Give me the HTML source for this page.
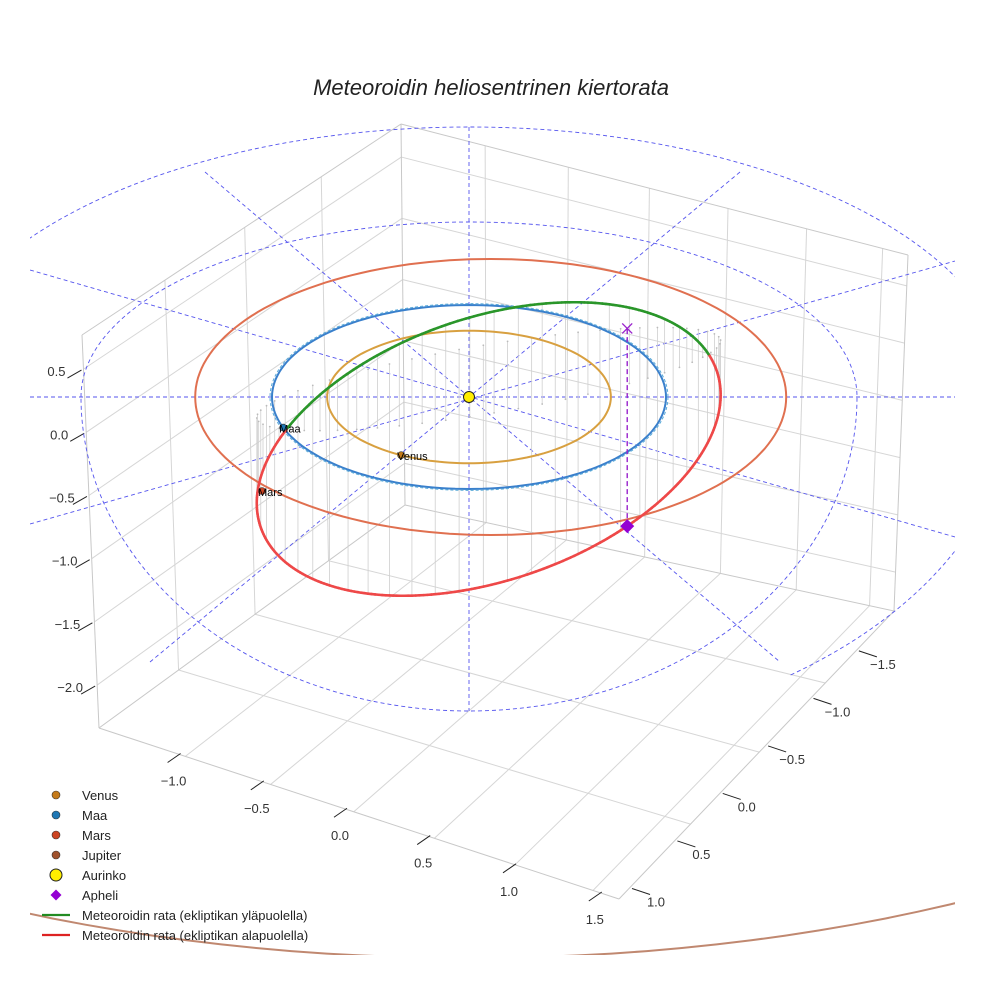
<!DOCTYPE html>
<html><head><meta charset="utf-8"><style>
html,body{margin:0;padding:0;background:#fff;}
svg{display:block;font-family:"Liberation Sans",sans-serif;}
</style></head><body>
<svg id="chart" width="984" height="984" viewBox="0 0 984 984">
<defs>
<clipPath id="axclip"><rect x="30" y="100" width="925" height="855"/></clipPath>
<clipPath id="rightclip"><rect x="790" y="397" width="165" height="400"/></clipPath>
</defs>
<text x="491" y="95" text-anchor="middle" font-size="22" font-style="italic" fill="#222">Meteoroidin heliosentrinen kiertorata</text>
<g id="grid"></g>
<g id="ticks"></g>
<g id="plot" clip-path="url(#axclip)"></g>
<g id="legend"></g>
</svg>
<script>
// ---- data ----
const planetNames = ["Venus","Maa","Mars","Jupiter"];
const planetRadii = [0.72, 1.0, 1.50, 5.2];
const planetOffsetX = [0, 0, 0.11, 0];
const planetColors = ["#d8a040","#3a80cc","#e07050","#c08870"];
const planetAngles = [-2.07, 3.48, 3.5, 0];
const zTicks = [0.5, 0.0, -0.5, -1.0, -1.5, -2.0];
const zTickLabels = ["0.5","0.0","\u22120.5","\u22121.0","\u22121.5","\u22122.0"];
const xTickLabels = ["\u22121.0","\u22120.5","0.0","0.5","1.0","1.5"];
const yTickLabels = ["1.0","0.5","0.0","\u22120.5","\u22121.0","\u22121.5"];
// meteoroid orbit (apparent ellipse conjugate vectors in AU units + z wave)
const orbitCenter = [0.10, 0.0];
const orbitUx = 1.157, orbitVx = -0.218;
const orbitUy = -0.853, orbitVy = -1.348;
const orbitZmean = -0.555, orbitZamp = 1.364, orbitZphase = 74;
const aphelionT = -64;

const NS = "http://www.w3.org/2000/svg";
const SX = 197, SY = 92, SZ = 126, CX = 469, CY = 397;
function proj(x, y, z){ return [CX + SX*x, CY + SY*y - SZ*z]; }
function mk(tag, attrs, parent){
  const e = document.createElementNS(NS, tag);
  for (const k in attrs) e.setAttribute(k, attrs[k]);
  parent.appendChild(e); return e;
}
const grid = document.getElementById('grid'), ticks = document.getElementById('ticks');
const plot = document.getElementById('plot'), legend = document.getElementById('legend');
function lerp(a,b,t){ return [a[0]+(b[0]-a[0])*t, a[1]+(b[1]-a[1])*t]; }
function bil(p00,p10,p01,p11,u,v){ return lerp(lerp(p00,p10,u), lerp(p01,p11,u), v); }
function line(p,q,style,parent,name){
  const l = mk('line',{x1:p[0],y1:p[1],x2:q[0],y2:q[1],stroke:style.c,'stroke-width':style.w||1,'stroke-dasharray':style.d||'none'},parent);
  
  
  return l;
}
// ---- box ----
const LT=[82,335], BT=[401,124], RT=[908,255], LB=[99,728], BB=[405,505], RB=[894,611], FB=[619,899];
const gs = {c:"#d6d6d6", w:1};
const leftF = [0.26, 0.51, 0.75];
const rightF = [0.166, 0.33, 0.49, 0.645, 0.80, 0.95];
const zTop = 0.77, zRange = 3.11;
zTicks.forEach(z=>{ const f=(zTop-z)/zRange; line(lerp(LT,LB,f), lerp(BT,BB,f), gs, grid, 'left-wall-gridline'); });
leftF.forEach(f=>line(lerp(LT,BT,f), lerp(LB,BB,f), gs, grid, 'left-wall-gridline'));
zTicks.forEach(z=>{ const f=(zTop-z)/zRange; line(lerp(BT,BB,f), lerp(RT,RB,f), gs, grid, 'right-wall-gridline'); });
rightF.forEach(f=>line(lerp(BT,RT,f), lerp(BB,RB,f), gs, grid, 'right-wall-gridline'));
rightF.forEach(f=>line(bil(BB,RB,LB,FB,f,0), bil(BB,RB,LB,FB,f,1), gs, grid, 'floor-gridline'));
leftF.forEach(f=>line(bil(BB,RB,LB,FB,0,1-f), bil(BB,RB,LB,FB,1,1-f), gs, grid, 'floor-gridline'));
const es = {c:"#c8c8c8", w:1};
[[LT,LB],[BT,BB],[RT,RB],[LT,BT],[BT,RT],[LB,FB],[FB,RB],[LB,BB],[BB,RB]].forEach(e=>line(e[0],e[1],es,grid,'axes-edge'));
zTicks.forEach((z,i)=>{
  const f=(zTop-z)/zRange, p=lerp(LT,LB,f);
  line([p[0]-16,p[1]+9],[p[0]-2,p[1]+1],{c:"#222",w:1},ticks,'z-tick');
  const t=mk('text',{x:p[0]-27,y:p[1]+7,'font-size':13,fill:'#333','text-anchor':'middle'},ticks);
  t.textContent=zTickLabels[i];
   
});
const xPos=[0.155,0.315,0.475,0.635,0.80,0.965];
xTickLabels.forEach((s,i)=>{
  const p=lerp(LB,FB,xPos[i]);
  line([p[0]-12,p[1]+8],[p[0]+1,p[1]-1],{c:"#222",w:1},ticks,'x-tick');
  const t=mk('text',{x:p[0]-6,y:p[1]+31,'font-size':13,fill:'#333','text-anchor':'middle'},ticks);
  t.textContent=s;
   
});
const yPos=[0.04,0.205,0.37,0.535,0.70,0.865];
yTickLabels.forEach((s,i)=>{
  const p=lerp(FB,RB,yPos[i]);
  line([p[0]+2,p[1]+1],[p[0]+20,p[1]+7],{c:"#222",w:1},ticks,'y-tick');
  const t=mk('text',{x:p[0]+26,y:p[1]+19,'font-size':13,fill:'#333','text-anchor':'middle'},ticks);
  t.textContent=s;
   
});
// ---- ecliptic reference (dashed) ----
const ds = {c:"#5555ee", w:0.9, d:"4,3"};
function pathEl(d, name, parent, extra){
  const p = mk('path',Object.assign({d:d,fill:'none',stroke:ds.c,'stroke-width':ds.w,'stroke-dasharray':ds.d},extra||{}),parent);
    return p;
}
pathEl(`M ${CX-388} ${CY} A 388 175 0 0 1 ${CX+388} ${CY} A 388 314 0 0 1 ${CX-388} ${CY}`,'ecliptic-circle-inner',plot);
pathEl(`M ${CX-543} ${CY} A 543 270 0 0 1 ${CX+543} ${CY}`,'ecliptic-circle-outer-top',plot);
pathEl(`M ${CX+543} ${CY} A 543 345 0 0 1 ${CX-543} ${CY}`,'ecliptic-circle-outer-bottom',plot,{'clip-path':'url(#rightclip)'});
[[[30,397],[955,397]],[[469,127],[469,711]],[[205,172],[780,662]],[[740,172],[150,662]],[[30,270],[955,537]],[[30,524],[955,261]]]
  .forEach(s=>line(s[0],s[1],ds,plot,'ecliptic-spoke'));
// ---- meteoroid orbit ----
function orbitPt(tDeg){
  const t=tDeg*Math.PI/180;
  const x = orbitCenter[0]+orbitUx*Math.cos(t)+orbitVx*Math.sin(t);
  const z = orbitZmean+orbitZamp*Math.cos(t-orbitZphase*Math.PI/180);
  const ya = 52/SY + orbitUy*Math.cos(t)+orbitVy*Math.sin(t);
  const y = ya + SZ*z/SY;
  return [x,y,z];
}
for(let t=0;t<360;t+=6){
  const p=orbitPt(t), a=proj(p[0],p[1],p[2]), b=proj(p[0],p[1],0);
  line(a,b,{c:"#cfcfcf",w:0.8},plot,'orbit-stem');
  const d=mk('circle',{cx:b[0],cy:b[1],r:0.9,fill:'#bbb'},plot);
   
}
planetRadii.forEach((r,i)=>{
  let d='';
  for(let k=0;k<=180;k++){
    const a=k/180*2*Math.PI; let X,Y;
    if(i===3){ Y=501+457*Math.sin(a); X=CX+1024*Math.cos(a); }
    else { const p=proj(planetOffsetX[i]+r*Math.cos(a), r*Math.sin(a), 0); X=p[0]; Y=p[1]; }
    d+=(k?'L':'M')+X.toFixed(1)+' '+Y.toFixed(1);
  }
  const pa=mk('path',{d:d,fill:'none',stroke:planetColors[i],'stroke-width':2},plot);
   
  if(i===1){
    const pb=mk('path',{d:d,fill:'none',stroke:'#5aaad8','stroke-width':1,'stroke-dasharray':'3,2',transform:'translate(469 397) scale(1.01 1.015) translate(-469 -397)'},plot);
     
  }
});
let prev=null;
for(let k=0;k<=360;k++){
  const p=orbitPt(k), s=proj(p[0],p[1],p[2]);
  if(prev){
    const l=line(prev.s,s,{c:(p[2]+prev.z)/2>=0?"#2a962a":"#ee4848",w:2.6},plot,'meteoroid-orbit-segment');
    l.setAttribute('stroke-linecap','round');
  }
  prev={s:s,z:p[2]};
}
const ap=orbitPt(aphelionT), aS=proj(ap[0],ap[1],ap[2]), aE=proj(ap[0],ap[1],0);
line(aS,aE,{c:"#9922cc",w:1.4,d:"5,3"},plot,'aphelion-projection-line');
line([aE[0]-5,aE[1]-5],[aE[0]+5,aE[1]+5],{c:"#9922cc",w:1.3},plot,'aphelion-ecliptic-marker');
line([aE[0]-5,aE[1]+5],[aE[0]+5,aE[1]-5],{c:"#9922cc",w:1.3},plot,'aphelion-ecliptic-marker');
const dm=mk('path',{d:`M ${aS[0]} ${aS[1]-7} L ${aS[0]+7} ${aS[1]} L ${aS[0]} ${aS[1]+7} L ${aS[0]-7} ${aS[1]} Z`,fill:'#9400d3'},plot);
 
const pcol=["#c47a1a","#1f77b4","#cc4422"];
[0,1,2].forEach(i=>{
  const a=planetAngles[i], r=planetRadii[i];
  const p= i===2 ? [262,491] : proj(r*Math.cos(a), -r*Math.sin(a), 0);
  const c=mk('circle',{cx:p[0],cy:p[1],r:3.5,fill:pcol[i],stroke:'#333','stroke-width':0.6},plot);
   
  const t=mk('text',{x:p[0]-4,y:p[1]+5,'font-size':11,fill:'#000'},plot); t.textContent=planetNames[i];
   
});
const sun=mk('circle',{cx:CX,cy:CY,r:5.5,fill:'#ffee00',stroke:'#222','stroke-width':1},plot);
 
// ---- legend ----
const legLabels=["Venus","Maa","Mars","Jupiter","Aurinko","Apheli","Meteoroidin rata (ekliptikan yläpuolella)","Meteoroidin rata (ekliptikan alapuolella)"];
const legKinds=["dot","dot","dot","dot","sun","diamond","line","line"];
const legColors=["#c47a1a","#1f77b4","#cc4422","#a0522d","#ffee00","#9400d3","#228b22","#dd2222"];
legLabels.forEach((s,i)=>{
  const y=795+i*20, g=mk('g',{},legend);
   
  if(legKinds[i]==='dot') mk('circle',{cx:56,cy:y,r:4,fill:legColors[i],stroke:'#333','stroke-width':0.6},g);
  else if(legKinds[i]==='sun') mk('circle',{cx:56,cy:y,r:6,fill:legColors[i],stroke:'#222','stroke-width':1},g);
  else if(legKinds[i]==='diamond') mk('path',{d:`M 56 ${y-5.5} L 61.5 ${y} L 56 ${y+5.5} L 50.5 ${y} Z`,fill:legColors[i]},g);
  else mk('line',{x1:42,y1:y,x2:70,y2:y,stroke:legColors[i],'stroke-width':2.2},g);
  const t=mk('text',{x:82,y:y+5,'font-size':13,fill:'#222'},g); t.textContent=s;
});
</script>
</body></html>
